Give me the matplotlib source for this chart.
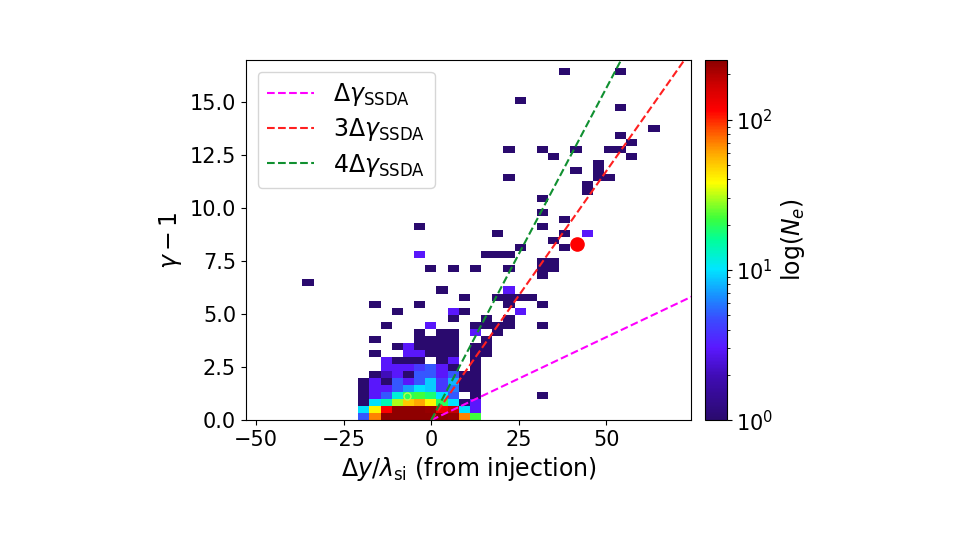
import numpy as np
import matplotlib
matplotlib.use("Agg")
import matplotlib.pyplot as plt
from matplotlib.colors import LogNorm, LinearSegmentedColormap
from matplotlib.ticker import MultipleLocator

# bin grid of the 2d histogram
x_edges = np.linspace(-36.8, 65.28, 33)
y_edges = np.linspace(0.0, 16.6, 51)

# dense core: rows are y-bins 0..16 (bottom up), columns are x-bins 5..16
core_first_col = 5
core_counts = [
    [5, 70, 240, 240, 240, 240, 240, 240, 230, 70, 22, 0],
    [10, 40, 120, 240, 240, 240, 230, 130, 180, 10, 3, 0],
    [1, 10, 14, 30, 50, 60, 40, 20, 10, 1, 3, 0],
    [1, 3, 5, 12, 20, 22, 18, 10, 5, 0, 1, 0],
    [1, 3, 3, 5, 7, 10, 9, 4, 6, 1, 1, 0],
    [1, 3, 1, 5, 3, 5, 9, 4, 8, 1, 1, 0],
    [0, 1, 2, 3, 1, 5, 5, 3, 5, 1, 1, 0],
    [0, 0, 3, 3, 3, 4, 5, 3, 1, 0, 1, 0],
    [0, 0, 3, 1, 1, 1, 0, 1, 3, 0, 1, 0],
    [0, 1, 0, 0, 3, 3, 1, 1, 1, 0, 1, 1],
    [0, 0, 0, 1, 3, 1, 1, 1, 1, 0, 1, 1],
    [0, 1, 0, 0, 0, 1, 1, 1, 1, 0, 0, 1],
    [0, 0, 0, 0, 0, 1, 0, 1, 1, 0, 3, 0],
    [0, 0, 1, 0, 0, 0, 3, 0, 0, 0, 1, 1],
    [0, 0, 0, 0, 0, 0, 0, 0, 1, 0, 0, 1],
    [0, 0, 0, 1, 0, 0, 0, 0, 3, 1, 0, 0],
    [0, 1, 0, 0, 0, 1, 0, 0, 0, 0, 0, 0],
]

# scattered electrons outside the core (bin centres)
sparse_x = [38.2, 54.1, 25.4, 54.1, 63.7, 54.1, 57.3, 50.9, 54.1, 57.3,
            22.2, 31.8, 35.0, 41.4, 41.4, 47.7, 47.7, 47.7, 50.9, 44.5,
            44.5, 22.2, 31.8, 31.8, 31.8, 38.2, -3.3, 19.0, 38.2, 44.5,
            35.0, 38.2, 25.4, 15.8, 19.0, 22.2, -3.3, 31.8, 35.0, 31.8,
            35.0, 31.8, -0.1, 6.3, 12.6, 22.2, -35.2, 3.1, 9.5, 19.0,
            22.2, 25.4, 28.6, 22.2, 31.8, 22.2, 25.4, 22.2, 22.2, 19.0,
            19.0, 31.8, 31.8]
sparse_y = [16.43, 16.43, 15.11, 14.77, 13.78, 13.45, 13.11, 12.78, 12.78, 12.45,
            12.78, 12.78, 12.45, 12.78, 11.79, 11.45, 11.79, 12.12, 11.45, 10.79,
            11.12, 11.45, 10.46, 9.79, 9.13, 9.46, 9.13, 8.80, 8.80, 8.80,
            8.47, 8.13, 8.13, 7.80, 7.80, 7.80, 7.80, 7.47, 7.47, 7.14,
            7.14, 6.81, 7.14, 7.14, 7.14, 7.14, 6.47, 6.14, 5.81, 5.81,
            5.81, 5.81, 5.81, 6.14, 5.48, 5.48, 5.15, 4.81, 4.48, 4.48,
            4.15, 4.48, 1.16]
sparse_n = [1, 1, 1, 1, 1, 1, 1, 1, 1, 1,
            1, 1, 1, 1, 1, 1, 1, 1, 1, 1,
            1, 1, 1, 1, 1, 1, 1, 1, 1, 3,
            1, 1, 1, 1, 1, 1, 3, 1, 1, 1,
            1, 1, 1, 1, 1, 1, 1, 1, 1, 1,
            1, 1, 1, 3, 1, 1, 3, 1, 1, 1,
            1, 1, 1]

# SSDA energy gain slope, the marked particle and the faint ring in the core
dgamma_slope = 0.0783
line_x = [0.0, 80.0]
marked_x, marked_y = 41.6, 8.31
ring_x, ring_y = -7.0, 1.15

# collect everything into weighted points at bin centres
xc = 0.5 * (x_edges[:-1] + x_edges[1:])
yc = 0.5 * (y_edges[:-1] + y_edges[1:])
px, py, pw = [], [], []
for j, row in enumerate(core_counts):
    for c, n in enumerate(row):
        if n > 0:
            px.append(xc[core_first_col + c])
            py.append(yc[j])
            pw.append(n)
px += sparse_x
py += sparse_y
pw += sparse_n

cmap = LinearSegmentedColormap.from_list("ne", [
    (0.0, "#2a0a6e"), (0.12, "#3f0cb4"), (0.2, "#5a18ff"), (0.28, "#3a4cff"),
    (0.34, "#1a8cff"), (0.42, "#00e6ff"), (0.5, "#00ff9a"), (0.56, "#3cff3c"),
    (0.66, "#ffff00"), (0.74, "#ffaa00"), (0.8, "#ff5a00"), (0.86, "#ff0000"),
    (0.93, "#d00000"), (1.0, "#8b0000")])

plt.rcParams["font.size"] = 15
plt.rcParams["mathtext.fontset"] = "dejavusans"

fig = plt.figure(figsize=(9.6, 5.4), dpi=100)
ax = fig.add_axes([0.256, 0.222, 0.464, 0.667])
cax = fig.add_axes([0.734, 0.222, 0.023, 0.667])

h = ax.hist2d(px, py, bins=[x_edges, y_edges], weights=pw, cmap=cmap,
              norm=LogNorm(vmin=1, vmax=250), cmin=1)

lx = np.array(line_x)
ax.plot(lx, dgamma_slope * lx, "--", color="magenta", lw=1.5,
        label=r"$\Delta\gamma_{\rm SSDA}$")
ax.plot(lx, 3 * dgamma_slope * lx, "--", color="#ff2020", lw=1.5,
        label=r"$3\Delta\gamma_{\rm SSDA}$")
ax.plot(lx, 4 * dgamma_slope * lx, "--", color="#109030", lw=1.5,
        label=r"$4\Delta\gamma_{\rm SSDA}$")
ax.plot(marked_x, marked_y, "o", color="red", ms=9.5)
ax.plot(ring_x, ring_y, "o", mfc="none", mec="#b4ff50", ms=5, mew=1)

ax.set_xlim(-53, 74.3)
ax.set_ylim(0, 17)
ax.xaxis.set_major_locator(MultipleLocator(25))
ax.set_xlabel(r"$\Delta y/\lambda_{\rm si}$ (from injection)", fontsize=17)
ax.set_ylabel(r"$\gamma - 1$", fontsize=17)
ax.legend(loc="upper left", fontsize=17, labelspacing=0.35)

cb = fig.colorbar(h[3], cax=cax)
cb.set_label(r"$\log(N_e)$", fontsize=17)

fig.savefig("out.png", dpi=100)
